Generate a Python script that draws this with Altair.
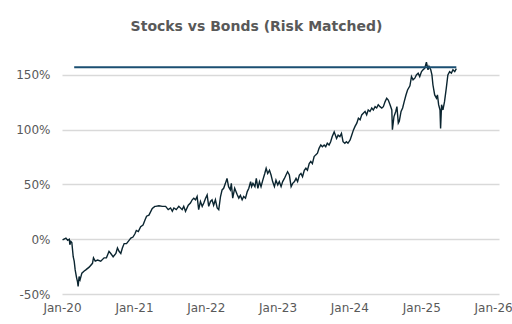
import altair as alt
import pandas as pd

# Cumulative excess return of stocks over risk-matched bonds (%)
dates = [
    "2020-01-04", "2020-01-21", "2020-01-30", "2020-02-07", "2020-02-10", "2020-02-15",
    "2020-02-20", "2020-02-27", "2020-03-03", "2020-03-08", "2020-03-15", "2020-03-20",
    "2020-03-23", "2020-03-28", "2020-04-02", "2020-04-11", "2020-04-23", "2020-05-01",
    "2020-05-18", "2020-06-04", "2020-06-09", "2020-06-18", "2020-06-30", "2020-07-16",
    "2020-08-02", "2020-08-14", "2020-08-27", "2020-09-05", "2020-09-17", "2020-10-01",
    "2020-10-09", "2020-10-17", "2020-10-26", "2020-11-03", "2020-11-12", "2020-11-24",
    "2020-12-07", "2020-12-16", "2020-12-27", "2021-01-06", "2021-01-13", "2021-01-23",
    "2021-02-04", "2021-02-16", "2021-02-26", "2021-03-06", "2021-03-18", "2021-04-04",
    "2021-04-17", "2021-04-21", "2021-05-08", "2021-05-25", "2021-06-11", "2021-06-24",
    "2021-07-06", "2021-07-15", "2021-07-23", "2021-08-04", "2021-08-17", "2021-09-03",
    "2021-09-11", "2021-09-20", "2021-10-04", "2021-10-15", "2021-10-24", "2021-11-01",
    "2021-11-10", "2021-11-18", "2021-11-26", "2021-12-05", "2021-12-14", "2021-12-22",
    "2021-12-31", "2022-01-08", "2022-01-16", "2022-01-25", "2022-02-02", "2022-02-10",
    "2022-02-19", "2022-02-28", "2022-03-08", "2022-03-17", "2022-03-25", "2022-04-02",
    "2022-04-11", "2022-04-19", "2022-04-27", "2022-05-06", "2022-05-11", "2022-05-18",
    "2022-05-28", "2022-06-09", "2022-06-18", "2022-06-26", "2022-07-05", "2022-07-13",
    "2022-07-22", "2022-07-31", "2022-08-08", "2022-08-17", "2022-08-22", "2022-08-29",
    "2022-09-08", "2022-09-15", "2022-09-23", "2022-10-01", "2022-10-09", "2022-10-18",
    "2022-10-28", "2022-11-04", "2022-11-12", "2022-11-21", "2022-11-29", "2022-12-07",
    "2022-12-16", "2022-12-24", "2023-01-02", "2023-01-10", "2023-01-19", "2023-01-27",
    "2023-02-05", "2023-02-13", "2023-02-21", "2023-03-02", "2023-03-11", "2023-03-19",
    "2023-03-28", "2023-04-05", "2023-04-13", "2023-04-22", "2023-04-30", "2023-05-08",
    "2023-05-17", "2023-05-25", "2023-06-02", "2023-06-11", "2023-06-19", "2023-06-27",
    "2023-07-06", "2023-07-14", "2023-07-23", "2023-07-31", "2023-08-09", "2023-08-17",
    "2023-08-26", "2023-09-03", "2023-09-11", "2023-09-20", "2023-09-28", "2023-10-06",
    "2023-10-16", "2023-10-28", "2023-11-05", "2023-11-14", "2023-11-22", "2023-11-30",
    "2023-12-09", "2023-12-17", "2023-12-25", "2024-01-05", "2024-01-13", "2024-01-22",
    "2024-01-30", "2024-02-08", "2024-02-16", "2024-02-25", "2024-03-04", "2024-03-12",
    "2024-03-21", "2024-03-29", "2024-04-06", "2024-04-15", "2024-04-24", "2024-05-02",
    "2024-05-11", "2024-05-19", "2024-05-27", "2024-06-05", "2024-06-14", "2024-06-22",
    "2024-07-01", "2024-07-09", "2024-07-17", "2024-07-26", "2024-08-04", "2024-08-07",
    "2024-08-15", "2024-08-24", "2024-08-30", "2024-09-06", "2024-09-11", "2024-09-20",
    "2024-09-28", "2024-10-06", "2024-10-15", "2024-10-23", "2024-11-04", "2024-11-12",
    "2024-11-20", "2024-11-29", "2024-12-07", "2024-12-16", "2024-12-24", "2025-01-02",
    "2025-01-10", "2025-01-18", "2025-01-27", "2025-02-04", "2025-02-09", "2025-02-18",
    "2025-02-24", "2025-03-01", "2025-03-10", "2025-03-19", "2025-03-24", "2025-03-30",
    "2025-04-06", "2025-04-09", "2025-04-14", "2025-04-21", "2025-04-29", "2025-05-08",
    "2025-05-16", "2025-05-25", "2025-06-03", "2025-06-11", "2025-06-20", "2025-06-28",
]
values = [
    -0.6, 1, -1, 0, -5, -2,
    -3, -16, -20, -28, -35, -39,
    -43, -34, -37, -31, -29, -28,
    -25.5, -22, -17, -20, -19, -20,
    -17, -17, -11, -13, -16, -13,
    -8, -11, -13, -8, -4, -4,
    -1, 1, 2, 5, 8, 7,
    11.5, 13, 17.6, 21, 22, 28,
    30, 30, 30.5, 30, 30, 27,
    28.5, 25.5, 28.5, 27, 30, 27,
    30, 25.5, 31, 33, 36, 37.5,
    36, 39, 27, 34.5, 30, 33,
    37.5, 40.5, 30, 34.5, 36, 31,
    36, 28.5, 27, 39, 45, 46.5,
    51, 55.5, 48, 45, 51, 37.5,
    46.5, 41, 37.5, 40, 36, 39,
    37.5, 43.5, 46.5, 52.6, 48, 51,
    48, 55.5, 46.5, 52.6, 48, 54,
    60, 64.8, 60, 63, 58.6, 52.6,
    48, 54, 49.6, 52.6, 48, 52.6,
    55.5, 58.6, 61.6, 58.6, 48, 51,
    52.6, 55.5, 52.6, 58.6, 60, 57,
    63, 64.8, 63, 69, 71, 69,
    75.5, 77, 78.5, 83, 86, 84.5,
    86, 84.5, 87.6, 86, 89, 93.7,
    98, 92, 95, 93.7, 96.6, 89,
    87.6, 89, 87.6, 90.6, 95, 99.8,
    103, 106, 110.5, 109, 113.5, 115,
    116.6, 113.5, 118, 116.6, 119.8, 118,
    121, 119.8, 122.8, 121, 119.8, 121,
    125.6, 128.7, 127, 122.8, 118, 100,
    112, 116.6, 121, 106, 107.7, 116.6,
    119.8, 125.6, 131.7, 136.3, 140, 148.5,
    145.5, 147, 150, 151.6, 148.5, 153,
    154.7, 156, 161.7, 154.7, 157.8, 154.7,
    150, 141, 131.7, 128.7, 131.7, 122.8,
    118, 101, 122.8, 118, 125.6, 137.9,
    150, 153, 151.6, 154.7, 153, 155.7,
]

# Horizontal marker at the previous high-water level
peak_level = [157]
peak_start = ["2020-03-03"]
peak_end = ["2025-06-28"]

y_ticks = [-50, 0, 50, 100, 150]
x_tick_years = [2020, 2021, 2022, 2023, 2024, 2025, 2026]

series = pd.DataFrame({"date": dates, "value": values})
peak = pd.DataFrame({"start": peak_start, "end": peak_end, "level": peak_level})

x_scale = alt.Scale(
    type="utc",
    domain=[
        alt.DateTime(year=2020, month=1, date=1, utc=True),
        alt.DateTime(year=2026, month=1, date=31, utc=True),
    ],
)
y_scale = alt.Scale(domain=[-50, 170], nice=False, zero=False)

label_style = dict(
    labelFont="DejaVu Sans",
    labelFontSize=12,
    labelColor="#595959",
    labelFlush=False,
    ticks=False,
    domain=False,
    title=None,
)

x_axis = alt.Axis(
    values=[alt.DateTime(year=y, month=1, date=1, utc=True) for y in x_tick_years],
    format="%b-%y",
    grid=False,
    labelPadding=8,
    labelOverlap=False,
    **label_style,
)
y_axis = alt.Axis(
    values=y_ticks,
    labelExpr="datum.value + '%'",
    grid=True,
    gridColor="#d9d9d9",
    gridWidth=1.5,
    labelPadding=12,
    **label_style,
)

line = alt.Chart(series).mark_line(color="#0b2530", strokeWidth=1.4).encode(
    x=alt.X("date:T", scale=x_scale, axis=x_axis),
    y=alt.Y("value:Q", scale=y_scale, axis=y_axis),
)

high = alt.Chart(peak).mark_rule(color="#1b4f72", strokeWidth=2).encode(
    x=alt.X("start:T", scale=x_scale),
    x2="end:T",
    y=alt.Y("level:Q", scale=y_scale),
)

chart = (
    alt.layer(line, high)
    .properties(
        width=437,
        height=241,
        background="white",
        title=alt.TitleParams(
            "Stocks vs Bonds (Risk Matched)",
            font="DejaVu Sans",
            fontSize=14,
            fontWeight="bold",
            color="#595959",
            dx=-24,
            offset=19,
        ),
        autosize=alt.AutoSizeParams(type="none"),
        padding={"left": 62, "top": 53, "right": 13, "bottom": 30},
    )
    .configure_view(strokeWidth=0, stroke="transparent")
)

chart.save("out.html", embed_options={"renderer": "svg", "actions": False})
